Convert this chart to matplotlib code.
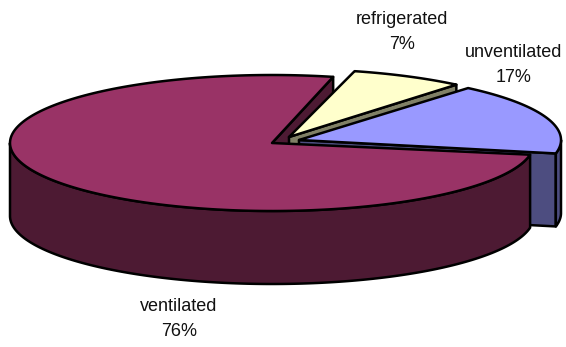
import numpy as np
import matplotlib
matplotlib.use('Agg')
import matplotlib.pyplot as plt
from matplotlib.patches import Polygon

plt.rcParams['font.family'] = ['Liberation Sans', 'DejaVu Sans']

etykiety = ['ventilated', 'unventilated', 'refrigerated']
wartosci = [76, 17, 7]

kolory_gora = ['#993366', '#9999FF', '#FFFFCC']
kolory_bok = ['#4D1A33', '#4D4D80', '#808066']

# srodki wycinkow (kazdy jest troche wysuniety)
srodki = [(272, 143), (299, 140), (289, 137)]
pozycje_opisow = [(179, 319), (514, 65), (402, 32)]
# lekki obrot wysunietych wycinkow, w stopniach
obroty = [0, -1.5, -1]

A = 262
B = 68
GLEBOKOSC = 73
KAT_START = 76.5


def punkty_luku(srodek, kat1, kat2, dy=0):
    t = np.radians(np.linspace(kat1, kat2, 200))
    x = srodek[0] + A * np.cos(t)
    y = srodek[1] - B * np.sin(t) + dy
    return np.column_stack([x, y])


def rysuj(ax, punkty, kolor):
    ax.add_patch(Polygon(punkty, closed=True, facecolor=kolor, edgecolor='black',
                         linewidth=1.8, joinstyle='round'))


def sciana_radialna(ax, srodek, kat, kolor):
    p = punkty_luku(srodek, kat, kat)[0]
    rysuj(ax, [srodek, p, (p[0], p[1] + GLEBOKOSC), (srodek[0], srodek[1] + GLEBOKOSC)], kolor)


def bok_zewnetrzny(ax, srodek, kat1, kat2, kolor):
    # widoczna jest tylko dolna polowa elipsy
    kat1 = max(kat1, 180)
    kat2 = min(kat2, 360)
    if kat1 >= kat2:
        return
    gora = punkty_luku(srodek, kat1, kat2)
    dol = punkty_luku(srodek, kat2, kat1, GLEBOKOSC)
    rysuj(ax, np.vstack([gora, dol]), kolor)


def wierzch(ax, srodek, kat1, kat2, kolor):
    rysuj(ax, np.vstack([[srodek], punkty_luku(srodek, kat1, kat2)]), kolor)


fig = plt.figure(figsize=(5.66, 3.47), dpi=100)
ax = fig.add_axes([0, 0, 1, 1])
ax.set_xlim(0, 566)
ax.set_ylim(347, 0)
ax.axis('off')

# katy wycinkow liczone od wartosci procentowych
rozpiety = [w / sum(wartosci) * 360 for w in wartosci]
kat_went = (KAT_START, KAT_START + rozpiety[0])
kat_unw = (kat_went[1] + obroty[1], kat_went[1] + obroty[1] + rozpiety[1])
kat_ref = (kat_went[1] + rozpiety[1] + obroty[2], kat_went[1] + rozpiety[1] + obroty[2] + rozpiety[2])

# od tylu do przodu: kazdy kolejny wycinek zaslania poprzedni
sciana_radialna(ax, srodki[0], kat_went[0], kolory_bok[0])

sciana_radialna(ax, srodki[2], kat_ref[0], kolory_bok[2])
wierzch(ax, srodki[2], kat_ref[0], kat_ref[1], kolory_gora[2])

sciana_radialna(ax, srodki[1], kat_unw[0], kolory_bok[1])
bok_zewnetrzny(ax, srodki[1], kat_unw[0], 360, kolory_bok[1])
wierzch(ax, srodki[1], kat_unw[0], kat_unw[1], kolory_gora[1])

bok_zewnetrzny(ax, srodki[0], kat_went[0], kat_went[1], kolory_bok[0])
wierzch(ax, srodki[0], kat_went[0], kat_went[1], kolory_gora[0])

for etykieta, wartosc, poz in zip(etykiety, wartosci, pozycje_opisow):
    ax.text(poz[0], poz[1], f'{etykieta}\n{wartosc}%', ha='center', va='center',
            fontsize=13, color='#111111', linespacing=1.6)

plt.savefig('out.png', dpi=100)
